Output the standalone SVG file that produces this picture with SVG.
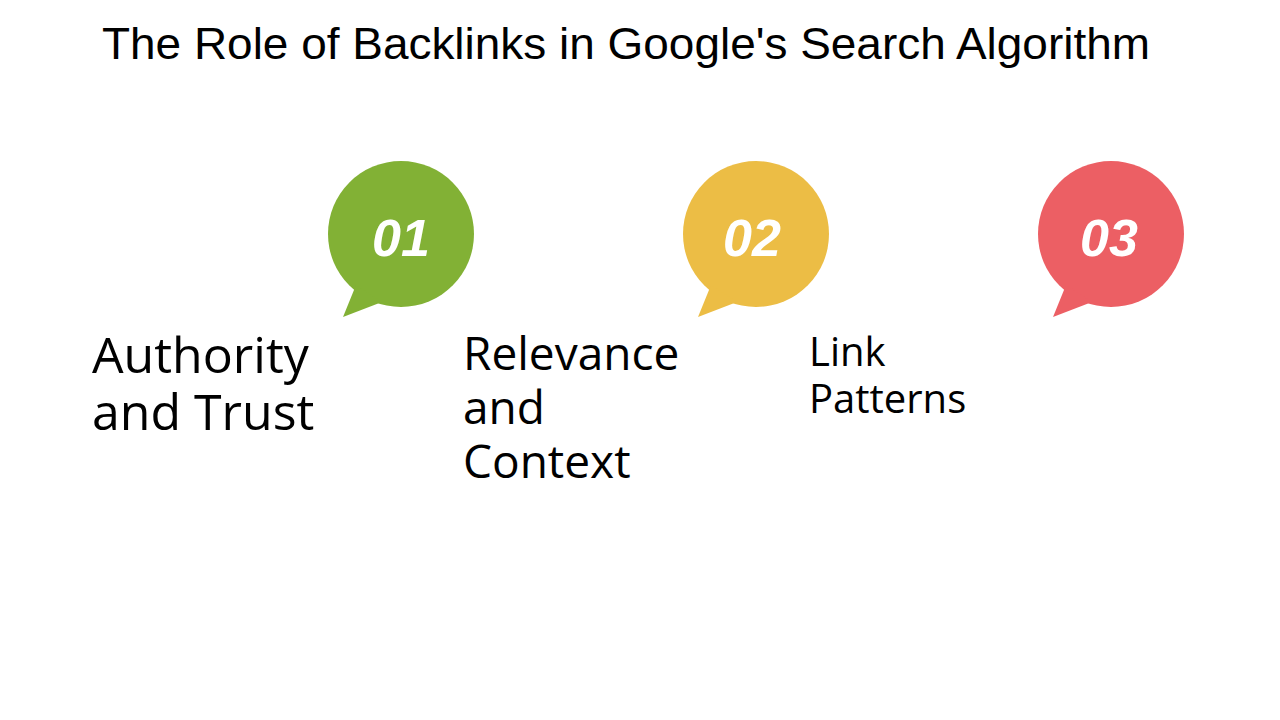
<svg xmlns="http://www.w3.org/2000/svg" width="1280" height="720" viewBox="0 0 1280 720">
<style>
.t{font-family:"Liberation Sans",Arial,sans-serif;font-size:44px;fill:#000}
.n{font-family:"Liberation Sans",Arial,sans-serif;font-size:52px;font-weight:bold;font-style:italic;fill:#fff;text-anchor:middle}
.l{font-family:"Open Sans",sans-serif;fill:#000}
</style>
<rect width="1280" height="720" fill="#fff"/>
<text class="t" x="102" y="59" textLength="1048" lengthAdjust="spacingAndGlyphs">The Role of Backlinks in Google's Search Algorithm</text>
<g id="node1">
<circle cx="401" cy="234" r="73" fill="#82b135"/>
<path d="M356,285 L343,317 L382,302 Z" fill="#82b135"/>
<text class="n" x="401" y="256">01</text>
<text class="l" font-size="50" x="92" y="373">Authority</text>
<text class="l" font-size="50" x="92" y="430">and Trust</text>
</g>
<g id="node2">
<circle cx="756" cy="234" r="73" fill="#ecbd45"/>
<path d="M711,285 L698,317 L737,302 Z" fill="#ecbd45"/>
<text class="n" x="752" y="256">02</text>
<text class="l" font-size="46" x="463" y="370">Relevance</text>
<text class="l" font-size="46" x="463" y="424">and</text>
<text class="l" font-size="46" x="463" y="478">Context</text>
</g>
<g id="node3">
<circle cx="1111" cy="234" r="73" fill="#ec5f64"/>
<path d="M1066,285 L1053,317 L1092,302 Z" fill="#ec5f64"/>
<text class="n" x="1109" y="256">03</text>
<text class="l" font-size="40" x="809" y="366">Link</text>
<text class="l" font-size="40" x="809" y="413">Patterns</text>
</g>
<g id="connectors"/>
</svg>
